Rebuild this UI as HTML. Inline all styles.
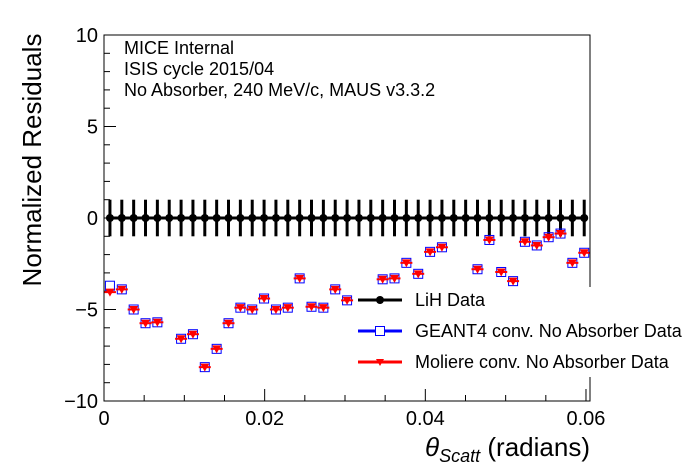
<!DOCTYPE html>
<html><head><meta charset="utf-8"><style>
body{margin:0;background:#fff;width:696px;height:472px;overflow:hidden}
svg{display:block;font-family:"Liberation Sans",sans-serif}
</style></head><body>
<svg id="c" width="696" height="472"></svg>
<script>
const lihTheta = [];
for (let i = 0; i < 41; i++) lihTheta.push(0.00074 + 0.001476 * i);
const lihValues = new Array(41).fill(0);
const lihErrors = new Array(41).fill(1);
const geantValues = [-3.7,-3.9,-5.0,-5.75,-5.7,null,-6.6,-6.35,-8.15,-7.15,-5.75,-4.9,-5.0,-4.4,-5.0,-4.9,-3.3,-4.85,-4.9,-3.9,-4.5,null,null,-3.35,-3.3,-2.45,-3.05,-1.85,-1.6,null,null,-2.8,-1.2,-2.95,-3.45,-1.3,-1.5,-1.05,-0.85,-2.45,-1.9];
const moliereValues = [-4.05,-3.9,-5.0,-5.75,-5.7,null,-6.6,-6.35,-8.15,-7.15,-5.75,-4.9,-5.0,-4.4,-5.0,-4.9,-3.3,-4.85,-4.9,-3.9,-4.5,null,null,-3.35,-3.3,-2.45,-3.05,-1.85,-1.6,null,null,-2.8,-1.2,-2.95,-3.45,-1.3,-1.5,-1.05,-0.85,-2.45,-1.9];
const xTicks = [0, 0.02, 0.04, 0.06];
const xTickLabels = ["0", "0.02", "0.04", "0.06"];
const yTicks = [10, 5, 0, -5, -10];
const yTickLabels = ["10", "5", "0", "\u22125", "\u221210"];

const L = 104, R = 590, T = 35, B = 401;
const X0 = 0, X1 = 0.0605, Y0 = -10, Y1 = 10;
const sx = v => L + (v - X0) / (X1 - X0) * (R - L);
const sy = v => B - (v - Y0) / (Y1 - Y0) * (B - T);
const svg = document.getElementById('c');
const NS = 'http://www.w3.org/2000/svg';
function mk(tag, attrs, parent) {
  const e = document.createElementNS(NS, tag);
  for (const k in attrs) e.setAttribute(k, attrs[k]);
  (parent || svg).appendChild(e);
  return e;
}
for (let v = -10; v <= 10; v++) {
  const major = v % 5 === 0;
  const t = mk('line', {x1: L, x2: L + (major ? 12 : 6), y1: sy(v), y2: sy(v), stroke: '#000', 'stroke-width': 1});
  
  
}
for (let v = 0; v <= 0.0601; v += 0.005) {
  const major = Math.abs(v / 0.02 - Math.round(v / 0.02)) < 1e-6;
  const t = mk('line', {x1: sx(v), x2: sx(v), y1: B, y2: B - (major ? 12 : 6), stroke: '#000', 'stroke-width': 1});
  
  
}
yTicks.forEach((v, i) => {
  const t = mk('text', {x: L - 6, y: sy(v) + 7, 'text-anchor': 'end', 'font-size': 20});
  t.textContent = yTickLabels[i];
  
  
});
xTicks.forEach((v, i) => {
  const t = mk('text', {x: sx(v), y: B + 24, 'text-anchor': 'middle', 'font-size': 20});
  t.textContent = xTickLabels[i];
  
  
});
lihTheta.forEach((th, i) => {
  const g = mk('g', {});
  
  
  const x = sx(th);
  mk('line', {x1: x, x2: x, y1: sy(lihValues[i] + lihErrors[i]), y2: sy(lihValues[i] - lihErrors[i]), stroke: '#000', 'stroke-width': 3}, g);
  mk('circle', {cx: x, cy: sy(lihValues[i]), r: 4, fill: '#000'}, g);
});
mk('line', {x1: sx(lihTheta[0]), x2: sx(lihTheta[40]), y1: sy(0), y2: sy(0), stroke: '#000', 'stroke-width': 3});
lihTheta.forEach((th, i) => {
  const x = sx(th);
  if (geantValues[i] !== null) {
    const s = mk('rect', {x: x - 4.5, y: sy(geantValues[i]) - 4.5, width: 9, height: 9, fill: 'none', stroke: '#00f', 'stroke-width': 1});
    
    
  }
  if (moliereValues[i] !== null) {
    const y = sy(moliereValues[i]);
    const g = mk('g', {});
    
    
    mk('line', {x1: x - 6, x2: x + 6, y1: y, y2: y, stroke: '#f00', 'stroke-width': 2}, g);
    mk('polygon', {points: `${x-4.5},${y-3.5} ${x+4.5},${y-3.5} ${x},${y+4.5}`, fill: '#f00'}, g);
  }
});
const fr = mk('rect', {x: L, y: T, width: R - L, height: B - T, fill: 'none', stroke: '#000', 'stroke-width': 1});


</script>
<svg width="696" height="472" style="position:absolute;left:0;top:0">
  <g font-family="Liberation Sans, sans-serif" font-size="18">
    <text x="124" y="54">MICE Internal</text>
    <text x="124" y="75">ISIS cycle 2015/04</text>
    <text x="124" y="96">No Absorber, 240 MeV/c, MAUS v3.3.2</text>
  </g>
  <g>
    <rect x="354" y="287" width="338" height="90" fill="#fff"/>
    <g>
      <line x1="358" y1="300" x2="402" y2="300" stroke="#000" stroke-width="3"/>
      <circle cx="380" cy="300" r="4" fill="#000"/>
      <text x="415" y="306" font-family="Liberation Sans, sans-serif" font-size="18">LiH Data</text>
    </g>
    <g>
      <line x1="358" y1="331" x2="402" y2="331" stroke="#00f" stroke-width="3"/>
      <rect x="375.5" y="326.5" width="9" height="9" fill="#fff" stroke="#00f"/>
      <text x="415" y="337" font-family="Liberation Sans, sans-serif" font-size="18">GEANT4 conv. No Absorber Data</text>
    </g>
    <g>
      <line x1="358" y1="362" x2="402" y2="362" stroke="#f00" stroke-width="3"/>
      <polygon points="376,359 384,359 380,366" fill="#f00"/>
      <text x="415" y="368" font-family="Liberation Sans, sans-serif" font-size="18">Moliere conv. No Absorber Data</text>
    </g>
  </g>
  <text transform="translate(41,160) rotate(-90)" text-anchor="middle" font-family="Liberation Sans, sans-serif" font-size="26">Normalized Residuals</text>
  <text x="590" y="456" text-anchor="end" font-family="Liberation Sans, sans-serif" font-size="26"><tspan font-style="italic">θ</tspan><tspan font-style="italic" font-size="18" dy="6">Scatt</tspan><tspan dy="-6"> (radians)</tspan></text>
</svg>
</body></html>
